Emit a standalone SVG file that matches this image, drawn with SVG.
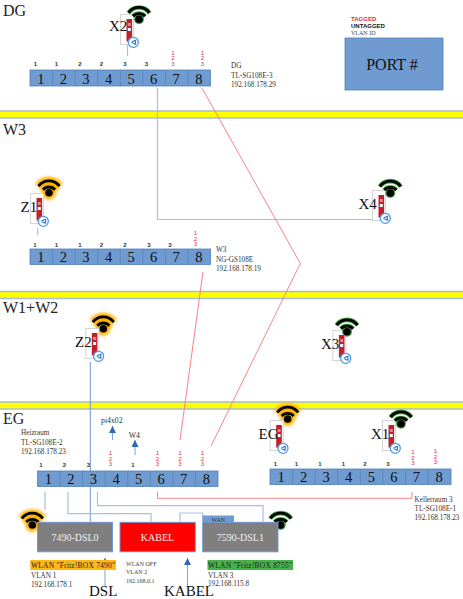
<svg xmlns="http://www.w3.org/2000/svg" width="463" height="599" viewBox="0 0 463 599">
<style>
text{font-family:"Liberation Serif","DejaVu Serif",serif;fill:#222}
.sec{font-size:16px}
.lab{font-size:15px;fill:#111}
.info{font-size:7.2px;fill:#333}
.sm{font-size:6px;fill:#444}
.v{font-family:"Liberation Sans",sans-serif;font-size:6px;font-weight:bold;fill:#333;text-anchor:middle}
.t{font-family:"Liberation Sans",sans-serif;font-size:6.2px;fill:#e0304f;text-anchor:middle}
.d{font-size:14.5px;fill:#111;text-anchor:middle}
.sw{fill:#6f9bd0;stroke:#4f81bd;stroke-width:.8}
.div{stroke:#4f81bd;stroke-width:.7}
.bar{fill:#ff0;stroke:#a9bcd0;stroke-width:1.5}
.bl{fill:none;stroke:#a9bfe0;stroke-width:1.2}
.bd{fill:none;stroke:#6f97cf;stroke-width:1}
.rd{fill:none;stroke:#f8848a;stroke-width:1}
.ar{fill:none;stroke:#7fa3d4;stroke-width:1;marker-end:url(#tip)}
.box{stroke:#6f97cf;stroke-width:1}
.bt{font-size:10px;fill:#eee;text-anchor:middle}
</style>
<defs>
<marker id="tip" markerUnits="userSpaceOnUse" markerWidth="8" markerHeight="7" refX="7" refY="3.5" orient="auto"><path d="M0 0L7 3.5L0 7z" fill="#2f67b0"/></marker>
<filter id="bl" x="-40%" y="-40%" width="180%" height="180%"><feGaussianBlur stdDeviation="1.6"/></filter>
<g id="ap">
<rect x="0.5" y="0.5" width="13" height="30" fill="#fff" stroke="#d4d4d4" stroke-width="1"/>
<rect x="6.5" y="5" width="5.6" height="22.5" fill="#c0202c"/>
<rect x="7.8" y="9" width="3" height="3" fill="#d88"/>
<rect x="7.8" y="14" width="3" height="3" fill="#fff"/>
<circle cx="13.3" cy="28.3" r="5" fill="#fff" stroke="#4a98e8" stroke-width="1.3"/>
<path d="M11.5 28.3L15.5 26M11.5 28.3L15.5 30.6M15.5 26V30.6" stroke="#2b7cd8" stroke-width="1.2" fill="none"/>
</g>
<g id="arcs" fill="none">
<path d="M-10.5 -6.5A13 13 0 0 1 10.5 -6.5"/>
<path d="M-6 -3A8 8 0 0 1 6 -3"/>
</g>
<g id="wg">
<g stroke="#45a845" stroke-width="4.6"><use href="#arcs"/></g>
<circle r="5" fill="#45a845"/>
<g stroke="#000" stroke-width="2.8"><use href="#arcs"/></g>
<circle r="3.8" fill="#000"/>
</g>
<g id="wo">
<g filter="url(#bl)"><g stroke="#ffb300" stroke-width="8"><use href="#arcs"/></g><circle r="6.5" fill="#ffb300" stroke="#ffb300" stroke-width="1"/><path d="M-11 -7L11 -7L5 3L-5 3z" fill="#ffb300"/></g>
<g stroke="#000" stroke-width="2.8"><use href="#arcs"/></g>
<circle r="3.8" fill="#000"/>
</g>
</defs>
<rect width="463" height="599" fill="#fff"/>

<g id="floors">
<rect class="bar" x="-2" y="111" width="467" height="7"/>
<rect class="bar" x="-2" y="291.5" width="467" height="7"/>
<rect class="bar" x="-2" y="402" width="467" height="7"/>
<text class="sec" x="3" y="16">DG</text>
<text class="sec" x="3" y="135">W3</text>
<text class="sec" x="3" y="313">W1+W2</text>
<text class="sec" x="3" y="424">EG</text>
</g>

<g id="connectors">
<path class="bl" d="M127.5 45V56"/>
<path class="bl" d="M157.5 88V219.5H372"/>
<path class="bl" d="M37.7 228V235"/>
<path class="bd" d="M90.3 362V521.7"/>
<path class="bl" d="M45 491.7V510"/>
<path class="bl" d="M68 491.7V513.7H151V521.7"/>
<path class="bl" d="M97.5 491.7V505.7H263V521.7"/>
<path class="bl" d="M180 521.7V513H202.7V521.7"/>
<path class="rd" d="M202 88L300.3 263.5L211 446"/>
<path class="rd" d="M203 271.7L180 440"/>
<path class="rd" d="M157.5 491.7V498.3H412V491.7"/>
<path class="ar" d="M112.5 440V426"/>
<path class="ar" d="M135 455V440"/>
<path class="ar" d="M105 586V558"/>
<path class="ar" d="M187.5 586V558"/>
</g>

<g id="legend">
<text x="351" y="21" style="font-family:'Liberation Sans',sans-serif;font-size:6px;font-weight:bold;fill:#d8303c">TAGGED</text>
<text x="351" y="28" style="font-family:'Liberation Sans',sans-serif;font-size:6px;font-weight:bold;fill:#111">UNTAGGED</text>
<text class="sm" x="351" y="35">VLAN ID</text>
<rect class="sw" x="345" y="38" width="98" height="52"/>
<text x="392" y="70" text-anchor="middle" style="font-size:16px;fill:#111">PORT #</text>
</g>

<g id="switch-dg">
<rect class="sw" x="30" y="70" width="180.5" height="16"/>
<path class="div" d="M52.6 70v16M75.1 70v16M97.7 70v16M120.3 70v16M142.9 70v16M165.4 70v16M188 70v16"/>
<text class="d" y="83.5" x="40.8">1</text><text class="d" y="83.5" x="63.4">2</text><text class="d" y="83.5" x="85.9">3</text><text class="d" y="83.5" x="108.5">4</text><text class="d" y="83.5" x="131.1">5</text><text class="d" y="83.5" x="153.6">6</text><text class="d" y="83.5" x="176.2">7</text><text class="d" y="83.5" x="198.8">8</text>
<text class="v" y="66" x="35.5">1</text><text class="v" y="66" x="56.5">1</text><text class="v" y="66" x="80">2</text><text class="v" y="66" x="101.5">2</text><text class="v" y="66" x="125">3</text><text class="v" y="66" x="146.5">3</text>
<text class="t" x="173" y="54.5">1</text><text class="t" x="173" y="60">2</text><text class="t" x="173" y="65.5">3</text>
<text class="t" x="202.5" y="54.5">1</text><text class="t" x="202.5" y="60">2</text><text class="t" x="202.5" y="65.5">3</text>
<text class="info" x="231" y="68">DG</text><text class="info" x="231" y="77.5">TL-SG108E-3</text><text class="info" x="231" y="87">192.168.178.29</text>
</g>

<g id="switch-w3">
<rect class="sw" x="30" y="249" width="180.5" height="15.5"/>
<path class="div" d="M52.6 249v15.5M75.1 249v15.5M97.7 249v15.5M120.3 249v15.5M142.9 249v15.5M165.4 249v15.5M188 249v15.5"/>
<text class="d" y="262" x="40.8">1</text><text class="d" y="262" x="63.4">2</text><text class="d" y="262" x="85.9">3</text><text class="d" y="262" x="108.5">4</text><text class="d" y="262" x="131.1">5</text><text class="d" y="262" x="153.6">6</text><text class="d" y="262" x="176.2">7</text><text class="d" y="262" x="198.8">8</text>
<text class="v" y="247" x="35">1</text><text class="v" y="247" x="56.5">1</text><text class="v" y="247" x="80">1</text><text class="v" y="247" x="101.5">2</text><text class="v" y="247" x="125">2</text><text class="v" y="247" x="149">3</text><text class="v" y="247" x="170">3</text>
<text class="t" x="195.5" y="235">1</text><text class="t" x="195.5" y="240.5">2</text><text class="t" x="195.5" y="246">3</text>
<text class="info" x="216" y="252">W3</text><text class="info" x="216" y="261.5">NG-GS108E</text><text class="info" x="216" y="270.5">192.168.178.19</text>
</g>

<g id="switch-eg">
<rect class="sw" x="37.5" y="471" width="180.5" height="15.5"/>
<path class="div" d="M60.1 471v15.5M82.6 471v15.5M105.2 471v15.5M127.8 471v15.5M150.4 471v15.5M172.9 471v15.5M195.5 471v15.5"/>
<text class="d" y="484" x="48.3">1</text><text class="d" y="484" x="70.9">2</text><text class="d" y="484" x="93.4">3</text><text class="d" y="484" x="116">4</text><text class="d" y="484" x="138.6">5</text><text class="d" y="484" x="161.1">6</text><text class="d" y="484" x="183.7">7</text><text class="d" y="484" x="206.3">8</text>
<text class="v" y="467" x="41">1</text><text class="v" y="467" x="64.5">2</text><text class="v" y="467" x="88.5">3</text><text class="v" y="467" x="133">1</text>
<text class="t" x="110.5" y="455">1</text><text class="t" x="110.5" y="460.7">2</text><text class="t" x="110.5" y="466.4">3</text>
<text class="t" x="157.5" y="455">1</text><text class="t" x="157.5" y="460.7">2</text><text class="t" x="157.5" y="466.4">3</text>
<text class="t" x="180" y="455">1</text><text class="t" x="180" y="460.7">2</text><text class="t" x="180" y="466.4">3</text>
<text class="t" x="202.5" y="455">1</text><text class="t" x="202.5" y="460.7">2</text><text class="t" x="202.5" y="466.4">3</text>
<text class="info" x="21" y="435">Heizraum</text><text class="info" x="21" y="444.5">TL-SG108E-2</text><text class="info" x="21" y="453.5">192.168.178.23</text>
</g>

<g id="switch-keller">
<rect class="sw" x="270" y="469" width="181" height="15.5"/>
<path class="div" d="M292.6 469v15.5M315.1 469v15.5M337.7 469v15.5M360.3 469v15.5M382.9 469v15.5M405.4 469v15.5M428 469v15.5"/>
<text class="d" y="482" x="281">1</text><text class="d" y="482" x="303.6">2</text><text class="d" y="482" x="326.1">3</text><text class="d" y="482" x="348.7">4</text><text class="d" y="482" x="371.3">5</text><text class="d" y="482" x="393.8">6</text><text class="d" y="482" x="416.4">7</text><text class="d" y="482" x="439">8</text>
<text class="v" y="466" x="275.3">1</text><text class="v" y="466" x="296.3">1</text><text class="v" y="466" x="320">1</text><text class="v" y="466" x="343.5">1</text><text class="v" y="466" x="365">2</text><text class="v" y="466" x="388">3</text>
<text class="t" x="413" y="454">1</text><text class="t" x="413" y="459.7">2</text><text class="t" x="413" y="465.4">3</text>
<text class="t" x="435.5" y="453">1</text><text class="t" x="435.5" y="458.7">2</text><text class="t" x="435.5" y="464.4">3</text>
<text class="info" x="414.5" y="501.5">Kellerraum 3</text><text class="info" x="414.5" y="511">TL-SG108E-1</text><text class="info" x="414.5" y="520">192.168.178.23</text>
</g>

<g id="ap-x2"><use href="#ap" x="120" y="14"/><use href="#wg" x="139" y="19.3"/><text class="lab" x="109" y="31">X2</text></g>
<g id="ap-z1"><use href="#wo" x="49" y="192.7"/><use href="#ap" x="30" y="193"/><text class="lab" x="20.5" y="212">Z1</text></g>
<g id="ap-x4"><use href="#ap" x="372" y="190"/><use href="#wg" x="390.3" y="193"/><text class="lab" x="358.5" y="209">X4</text></g>
<g id="ap-z2"><use href="#wo" x="103.3" y="328.7"/><use href="#ap" x="85.3" y="328"/><text class="lab" x="75" y="347">Z2</text></g>
<g id="ap-x3"><use href="#ap" x="332.4" y="330"/><use href="#wg" x="347" y="331.7"/><text class="lab" x="321" y="349">X3</text></g>
<g id="ap-eg"><use href="#wo" x="287.7" y="419"/><use href="#ap" x="269.7" y="420"/><text class="lab" x="258.5" y="439">EG</text></g>
<g id="ap-x1"><use href="#ap" x="382" y="420"/><use href="#wg" x="401" y="423.7"/><text class="lab" x="371" y="439">X1</text></g>

<g id="fritz-7490">
<use href="#wo" x="32.3" y="525"/>
<rect class="box" x="37.5" y="522.3" width="75" height="29.5" fill="#7f7f7f"/>
<text class="bt" x="75" y="541">7490-DSL0</text>
<rect x="30.3" y="560" width="85.7" height="10" fill="#fdb813"/>
<text x="31" y="568" textLength="84" style="font-size:7.5px;fill:#222">WLAN "Fritz!BOX 7490"</text>
<text class="info" x="31" y="577.5">VLAN 1</text><text class="info" x="31" y="587">192.168.178.1</text>
</g>
<g id="kabel-box">
<rect class="box" x="120" y="522.3" width="75.3" height="29.5" fill="#f00"/>
<text class="bt" x="157.5" y="541">KABEL</text>
<text class="sm" x="126" y="565.5">WLAN OFF</text><text class="sm" x="126" y="574">VLAN 2</text><text class="sm" x="126" y="582.5">192.168.0.1</text>
</g>
<g id="fritz-7590">
<use href="#wg" x="280.7" y="525"/>
<rect x="202.7" y="515.5" width="31.3" height="7" fill="#6f9bd0"/>
<text x="218.3" y="521.5" text-anchor="middle" style="font-size:6px;fill:#333">WAN</text>
<rect class="box" x="202.7" y="522.3" width="75.3" height="29.5" fill="#7f7f7f"/>
<text class="bt" x="240.3" y="541">7590-DSL1</text>
<rect x="207.5" y="560" width="85.5" height="10" fill="#46b24a"/>
<text x="208" y="568" textLength="84" style="font-size:7.5px;fill:#222">WLAN "Fritz!BOX 8755"</text>
<text class="info" x="208" y="577.5">VLAN 3</text><text class="info" x="208" y="586">192.168.115.8</text>
</g>
<g id="inputs">
<text x="101" y="423" style="font-size:7.8px;fill:#333">pi4x02</text>
<text x="128.7" y="438" style="font-size:7.8px;fill:#333">W4</text>
<text class="lab" x="89" y="595.5">DSL</text>
<text class="lab" x="164" y="595.5">KABEL</text>
</g>
</svg>
